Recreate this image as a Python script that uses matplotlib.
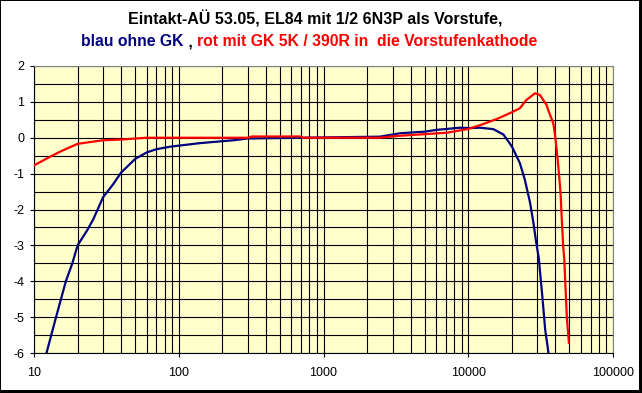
import matplotlib
matplotlib.use('Agg')
import matplotlib.pyplot as plt
from matplotlib.patches import Rectangle
from matplotlib.ticker import LogLocator, FixedLocator, MultipleLocator, NullFormatter

# Frequenzgang, Werte in dB
red_freq = [10, 12.9, 15.1, 20, 24.4, 30, 40, 60, 300, 320, 700, 720, 2450, 3200, 5000,
            7100, 10000, 12050, 15700, 20000, 22700, 25200, 28900, 31300, 34800, 35700,
            38700, 40000, 41200, 42500, 43500, 44300, 45300, 46100, 47000, 48000, 49600]
red_db = [-0.77, -0.53, -0.39, -0.17, -0.12, -0.07, -0.05, 0.0, 0.0, 0.035, 0.035, 0.0, 0.0,
          0.05, 0.1, 0.14, 0.245, 0.35, 0.52, 0.71, 0.82, 1.05, 1.24, 1.19, 0.91, 0.77,
          0.40, 0.0, -0.5, -1.07, -1.6, -2.3, -3.03, -3.4, -4.2, -5.0, -5.72]

blue_freq = [12.2, 14.2, 16.6, 18.4, 20, 23.3, 25.7, 30, 35.3, 40, 50, 60, 70, 87, 140, 238,
             300, 2450, 3370, 5000, 6050, 8770, 10300, 12050, 14900, 17500, 20000, 22700,
             24600, 26700, 28200, 29500, 30700, 32500, 34000, 35400, 35800]
blue_db = [-6.0, -5.0, -4.0, -3.5, -3.0, -2.58, -2.27, -1.66, -1.29, -0.97, -0.59, -0.41,
           -0.32, -0.25, -0.15, -0.07, -0.02, 0.03, 0.125, 0.17, 0.22, 0.28, 0.27, 0.28,
           0.24, 0.09, -0.24, -0.7, -1.17, -1.8, -2.37, -2.93, -3.35, -4.43, -5.35, -5.84, -6.0]

x_ticks = [10, 100, 1000, 10000, 100000]
x_labels = ['10', '100', '1000', '10000', '100000']
y_ticks = [2, 1, 0, -1, -2, -3, -4, -5, -6]

W, H = 642, 393
plt.rcParams['font.family'] = ['Liberation Sans', 'DejaVu Sans']

fig = plt.figure(figsize=(W / 100, H / 100), dpi=100)
fig.patch.set_facecolor('black')
# weisse Flaeche mit Schatten rechts/unten
fig.patches.append(Rectangle((1 / W, 3 / H), 638 / W, 389 / H, transform=fig.transFigure,
                             facecolor='white', edgecolor='none', zorder=-1))

ax = fig.add_axes([34 / W, 1 - 353 / H, 579 / W, 287 / H])
ax.set_zorder(2)
ax.set_facecolor('#FFFFCC')
ax.set_xscale('log')
ax.set_xlim(10, 100000)
ax.set_ylim(-6, 2)

ax.xaxis.set_major_locator(FixedLocator(x_ticks))
ax.set_xticks(x_ticks, x_labels)
ax.xaxis.set_minor_locator(LogLocator(base=10, subs=range(2, 10)))
ax.xaxis.set_minor_formatter(NullFormatter())
ax.set_yticks(y_ticks, [str(v) for v in y_ticks])
ax.yaxis.set_minor_locator(MultipleLocator(0.5))

ax.grid(True, which='both', color='black', linewidth=0.8)
ax.set_axisbelow(True)
ax.tick_params(which='major', direction='out', length=3, width=0.8, color='black',
               labelsize=9)
ax.tick_params(axis='x', which='major', pad=7)
ax.tick_params(axis='y', which='major', pad=4)
ax.tick_params(which='minor', length=0)

for side in ['left', 'bottom']:
    ax.spines[side].set_color('black')
    ax.spines[side].set_linewidth(0.8)
for side in ['top', 'right']:
    ax.spines[side].set_color('#808080')
    ax.spines[side].set_linewidth(0.8)

ax.plot(blue_freq, blue_db, color='#000080', linewidth=1.6, zorder=3)
ax.plot(red_freq, red_db, color='#FF0000', linewidth=1.6, zorder=4)

fig.text(315 / W, 1 - 19 / H, 'Eintakt-AÜ 53.05, EL84 mit 1/2 6N3P als Vorstufe,',
         ha='center', va='center', fontsize=11.5, fontweight='bold', color='black')

# zweite Titelzeile aus drei farbigen Teilen
parts = [('blau ohne GK', '#000080'), (' , ', 'black'),
         ('rot mit GK 5K / 390R in  die Vorstufenkathode', '#FF0000')]
texts = []
for s, c in parts:
    texts.append(fig.text(0, 1 - 42 / H, s, ha='left', va='center', fontsize=11.3,
                          fontweight='bold', color=c))
renderer = fig.canvas.get_renderer()
widths = [t.get_window_extent(renderer).width for t in texts]
x0 = 309 - sum(widths) / 2
for t, w in zip(texts, widths):
    t.set_x(x0 / W)
    x0 += w

fig.savefig('out.png', dpi=100, facecolor=fig.get_facecolor())
